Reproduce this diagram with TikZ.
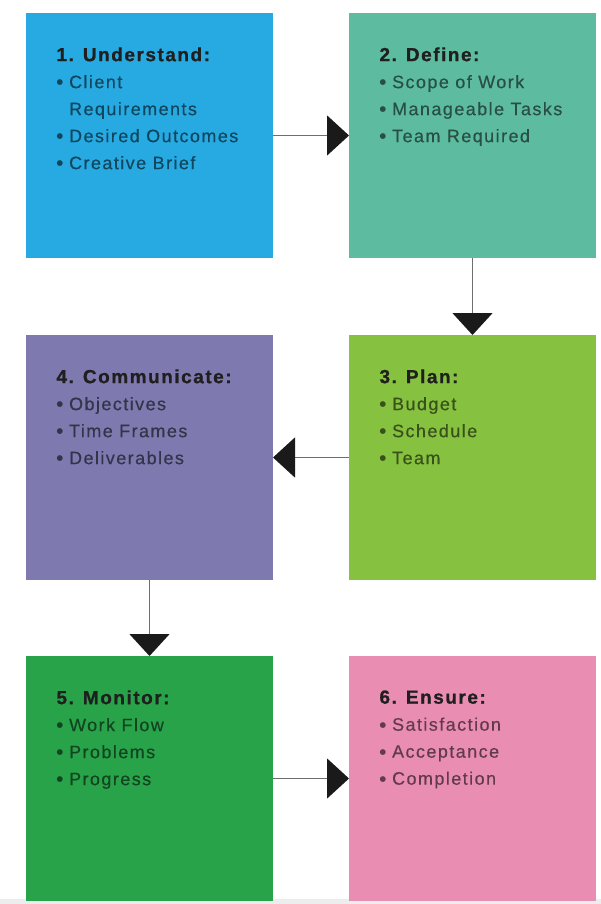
\documentclass[tikz,border=0pt]{standalone}
\usepackage{fontspec}
\setmainfont{Liberation Sans}[LetterSpace=8]
\newfontfamily\symfont{DejaVu Sans}
\usetikzlibrary{arrows.meta,calc}

% box fills
\definecolor{cUnderstand}{HTML}{27AAE1}
\definecolor{cDefine}{HTML}{5DBB9F}
\definecolor{cPlan}{HTML}{86C13F}
\definecolor{cCommunicate}{HTML}{7E79AF}
\definecolor{cMonitor}{HTML}{28A34A}
\definecolor{cEnsure}{HTML}{E98DB3}
\definecolor{linegray}{HTML}{6E6E6E}
\definecolor{tipblack}{HTML}{1A1A1A}

% bullet item: round dot in a fixed-width slot, then the text
\newcommand{\dotmark}{\raisebox{3.4pt}{\symfont\fontsize{7.5}{27}\selectfont ●}}
\newcommand{\itm}[1]{\makebox[12.6pt][l]{\dotmark}#1}
\newcommand{\cont}[1]{\hspace*{12.6pt}#1}

\tikzset{
  stepbox/.style={rectangle, draw=none, inner sep=0pt, outer sep=0pt,
    minimum width=247pt, minimum height=245pt, anchor=north west},
  boxtext/.style={anchor=north west, inner sep=0pt, outer sep=0pt, align=left,
    font=\fontsize{18}{27}\selectfont\addfontfeature{FakeBold=0.35},
    text=#1!42!black},
  conn/.style={draw=linegray, line width=1.4pt,
    -{Triangle[length=22pt,width=40pt,color=tipblack]}},
}
\newcommand{\ttl}[1]{{\fontsize{19}{27}\selectfont\bfseries
  \addfontfeature{FakeBold=0.8}\color{black!88}#1}}

\begin{document}
\begin{tikzpicture}[x=1pt,y=-1pt]
  \useasboundingbox (0,0) rectangle (601,904);
  \fill[white] (0,0) rectangle (601,904);
  \fill[black!7] (0,899) rectangle (601,904);

  % the six stage boxes
  \node[stepbox, fill=cUnderstand]  (b1) at (26,13)  {};
  \node[stepbox, fill=cDefine]      (b2) at (349,13) {};
  \node[stepbox, fill=cCommunicate] (b4) at (26,335) {};
  \node[stepbox, fill=cPlan]        (b3) at (349,335) {};
  \node[stepbox, fill=cMonitor]     (b5) at (26,656) {};
  \node[stepbox, fill=cEnsure]      (b6) at (349,656) {};

  % box contents
  \node[boxtext=cUnderstand] (t1) at ($(b1.north west)+(30.5,34.4)$)
    {\ttl{1. Understand:}\\ \itm{Client}\\ \cont{Requirements}\\
     \itm{Desired Outcomes}\\ \itm{Creative Brief}};
  \node[boxtext=cDefine] (t2) at ($(b2.north west)+(30.5,34.4)$)
    {\ttl{2. Define:}\\ \itm{Scope of Work}\\ \itm{Manageable Tasks}\\
     \itm{Team Required}};
  \node[boxtext=cPlan] (t3) at ($(b3.north west)+(30.5,34.4)$)
    {\ttl{3. Plan:}\\ \itm{Budget}\\ \itm{Schedule}\\ \itm{Team}};
  \node[boxtext=cCommunicate] (t4) at ($(b4.north west)+(30.5,34.4)$)
    {\ttl{4. Communicate:}\\ \itm{Objectives}\\ \itm{Time Frames}\\
     \itm{Deliverables}};
  \node[boxtext=cMonitor] (t5) at ($(b5.north west)+(30.5,34.4)$)
    {\ttl{5. Monitor:}\\ \itm{Work Flow}\\ \itm{Problems}\\ \itm{Progress}};
  \node[boxtext=cEnsure] (t6) at ($(b6.north west)+(30.5,34.4)$)
    {\ttl{6. Ensure:}\\ \itm{Satisfaction}\\ \itm{Acceptance}\\
     \itm{Completion}};

  % flow between stages
  \draw[conn] (b1.east) -- (b2.west);
  \draw[conn] (b2.south) -- (b3.north);
  \draw[conn] (b3.west) -- (b4.east);
  \draw[conn] (b4.south) -- (b5.north);
  \draw[conn] (b5.east) -- (b6.west);
\end{tikzpicture}
\end{document}
